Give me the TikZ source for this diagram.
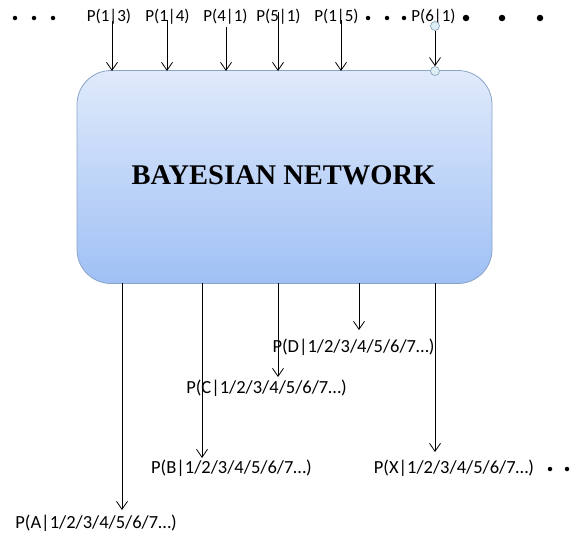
\documentclass[tikz,border=0pt]{standalone}
\usepackage{fontspec}
\setmainfont{Carlito}
\newfontfamily\titlefont{Liberation Serif}
\usetikzlibrary{arrows.meta}
\definecolor{boxtop}{HTML}{E0EAFB}
\definecolor{boxbot}{HTML}{9FC0F5}
\definecolor{boxedge}{HTML}{8AA4C8}
\definecolor{knobfill}{HTML}{DCEEF4}
\definecolor{knobedge}{HTML}{7F9DB3}
\tikzset{
  toplab/.style={font=\fontsize{17}{20}\selectfont, inner sep=0pt},
  botlab/.style={font=\fontsize{18.5}{22}\selectfont, inner sep=0pt},
  conn/.style={line width=0.8pt, -{Straight Barb[length=8pt,width=11pt,line width=0.8pt]}},
  smalldot/.style={circle, fill=black, inner sep=0pt, minimum size=4.5pt},
  bigdot/.style={circle, fill=black, inner sep=0pt, minimum size=6.5pt},
  knob/.style={circle, fill=knobfill, draw=knobedge, line width=0.6pt, inner sep=0pt, minimum size=9pt},
  netbox/.style={draw=boxedge, line width=0.8pt, rounded corners=34pt, top color=boxtop, bottom color=boxbot,
    minimum width=415pt, minimum height=213pt, inner sep=0pt}
}
\begin{document}
\begin{tikzpicture}[x=1pt,y=-1pt]
\useasboundingbox (0,0) rectangle (577,541);
% main box
\node[netbox] (bn) at (284.5,177) {};
\node[font=\titlefont\bfseries\fontsize{28.5}{32}\selectfont, inner sep=0pt] (title) at (283.5,175) {BAYESIAN NETWORK};
% top dots
\node[smalldot] (d1) at (15,18) {};
\node[smalldot] (d2) at (34,18) {};
\node[smalldot] (d3) at (53,18) {};
\node[smalldot] (d4) at (368,18) {};
\node[smalldot] (d5) at (387,18) {};
\node[smalldot] (d6) at (404,18) {};
\node[bigdot] (d7) at (466,18) {};
\node[bigdot] (d8) at (502,18) {};
\node[bigdot] (d9) at (540,18) {};
% top labels
\node[toplab] (p13) at (109,17) {P(1|3)};
\node[toplab] (p14) at (167.5,17) {P(1|4)};
\node[toplab] (p41) at (225.5,17) {P(4|1)};
\node[toplab] (p51) at (278.5,17) {P(5|1)};
\node[toplab] (p15) at (336.5,17) {P(1|5)};
\node[toplab] (p61) at (433.5,17) {P(6|1)};
% top arrow starts and ends
\coordinate (s13) at (112,21); \coordinate (e13) at (112,71);
\coordinate (s14) at (167,20); \coordinate (e14) at (167,71);
\coordinate (s41) at (226,27); \coordinate (e41) at (226,71);
\coordinate (s51) at (278,12); \coordinate (e51) at (278,71);
\coordinate (s15) at (341,20); \coordinate (e15) at (341,71);
\draw[conn] (s13) -- (e13);
\draw[conn] (s14) -- (e14);
\draw[conn] (s41) -- (e41);
\draw[conn] (s51) -- (e51);
\draw[conn] (s15) -- (e15);
% P(6|1) connector with knobs
\node[knob] (k1) at (435,26) {};
\node[knob] (k2) at (435,71) {};
\draw[conn] (k1) -- (k2);
% bottom labels
\node[botlab] (pd) at (353.5,347) {P(D|1/2/3/4/5/6/7…)};
\node[botlab] (pc) at (266.5,388) {P(C|1/2/3/4/5/6/7…)};
\node[botlab] (pb) at (231.5,468) {P(B|1/2/3/4/5/6/7…)};
\node[botlab] (px) at (454,468) {P(X|1/2/3/4/5/6/7…)};
\node[botlab] (pa) at (96,523) {P(A|1/2/3/4/5/6/7…)};
\node[smalldot] (d10) at (550,469) {};
\node[smalldot] (d11) at (567,469) {};
\node[smalldot] (d12) at (580,469) {};
% bottom connectors
\coordinate (ba) at (122,283); \coordinate (ta) at (122,510);
\coordinate (bb) at (202,283); \coordinate (tb) at (202,458);
\coordinate (bc) at (278,283); \coordinate (tc) at (278,377);
\coordinate (bd) at (359,283); \coordinate (td) at (359,330);
\coordinate (bx) at (435,283); \coordinate (tx) at (435,452);
\draw[conn] (ba) -- (ta);
\draw[conn] (bb) -- (tb);
\draw[conn] (bc) -- (tc);
\draw[conn] (bd) -- (td);
\draw[conn] (bx) -- (tx);
\end{tikzpicture}
\end{document}
